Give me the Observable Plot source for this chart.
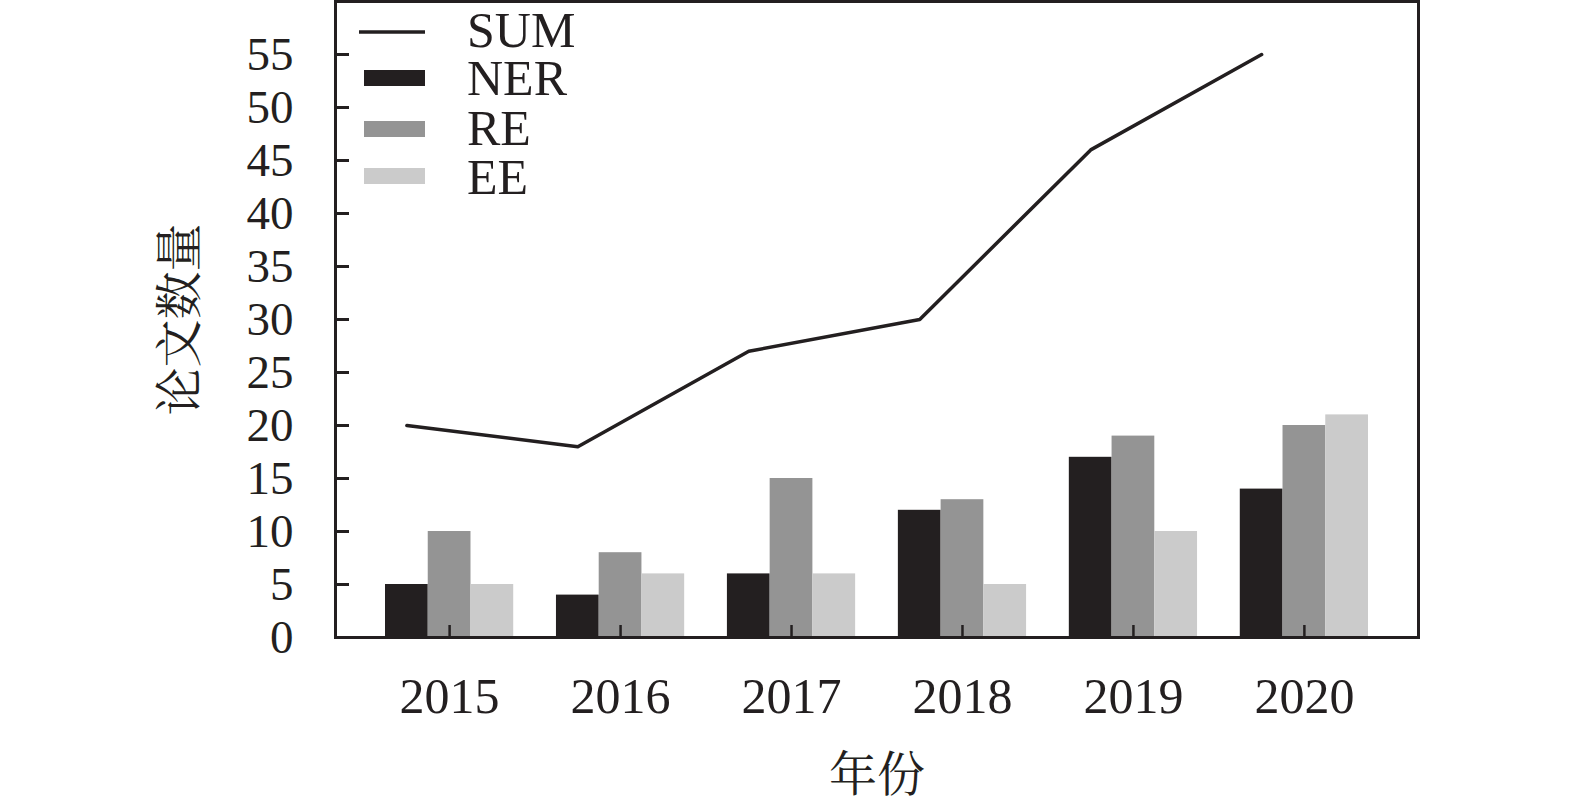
<!DOCTYPE html>
<html><head><meta charset="utf-8">
<script src="https://cdn.jsdelivr.net/npm/d3@7"></script>
<script src="https://cdn.jsdelivr.net/npm/@observablehq/plot@0.6"></script>
<style>
html,body{margin:0;padding:0;background:#fff;}
#wrap{position:relative;width:1575px;height:808px;overflow:hidden;}
#legend{position:absolute;left:0;top:0;}
</style></head><body><div id="wrap"></div>
<script>
const years = ["2015","2016","2017","2018","2019","2020"];
const series = ["NER","RE","EE"];
const ner = [5,4,6,12,17,14];
const re = [10,8,15,13,19,20];
const ee = [5,6,6,5,10,21];
const sum = [20,18,27,30,46,55];
const yTicks = [0,5,10,15,20,25,30,35,40,45,50,55];
const seriesColors = ["#231f20","#949494","#cbcbcb"];
const lineColor = "#231f20";
const legendItems = ["SUM","NER","RE","EE"];

const values = {NER: ner, RE: re, EE: ee};
const bars = years.flatMap((y,i)=> series.map(s=>({key:y+"|"+s, series:s, value: values[s][i]})));
const domain = years.flatMap((y,i)=> {
  const k = series.map(s=>y+"|"+s);
  return i < years.length-1 ? [...k, y+"|gap"] : k;
});
const lineData = years.map((y,i)=>({key:y+"|NER", value: sum[i]}));
const centerKeys = years.map(y=>y+"|RE");

const serif = "'Liberation Serif','Times New Roman',serif";
const cjk = "'Noto Serif CJK SC','Noto Sans CJK SC',sans-serif";

const chart = Plot.plot({
  width:1575, height:808,
  marginLeft:335, marginRight:157, marginTop:1, marginBottom:171,
  style:{fontFamily:serif, color:"#231f20", background:"white", overflow:"visible"},
  x:{type:"band", domain, paddingInner:0, paddingOuter:1.17, align:0.5, round:false, axis:null},
  y:{domain:[0,60], axis:null},
  color:{domain:series, range:seriesColors},
  marks:[
    Plot.barY(bars, {x:"key", y:"value", fill:"series", insetLeft:0, insetRight:0}),
    Plot.line(lineData, {x:"key", y:"value", stroke:lineColor, strokeWidth:3.5}),
    Plot.tickY(yTicks, {y:d=>d, stroke:lineColor, strokeWidth:3, insetRight:1083-14}),
    Plot.tickX(centerKeys, {x:d=>d, stroke:lineColor, strokeWidth:2.5, insetTop:636-12}),
    Plot.axisY(yTicks, {tickSize:0, tickPadding:42, fontSize:47, fill:"#231f20", label:null}),
    Plot.axisX(centerKeys, {tickSize:0, tickPadding:40, fontSize:50, fill:"#231f20", label:null, tickFormat:d=>d.split("|")[0]}),
    Plot.frame({stroke:lineColor, strokeWidth:3}),
    Plot.text(["年份"], {frameAnchor:"bottom", dy:138, fontSize:48, fontFamily:cjk, fill:"#231f20", textAnchor:"middle", lineAnchor:"middle"}),
    Plot.text(["论文数量"], {frameAnchor:"left", dx:-155, rotate:-90, fontSize:48, fontFamily:cjk, fill:"#231f20", textAnchor:"middle", lineAnchor:"middle"})
  ]
});
const wrap = document.getElementById("wrap");
wrap.appendChild(chart);

// legend overlay
const ns = "http://www.w3.org/2000/svg";
const lg = document.createElementNS(ns, "svg");
lg.setAttribute("id","legend");
lg.setAttribute("width","700");
lg.setAttribute("height","220");
const swatchX = 364, swatchW = 61;
const tops = [32, 78, 129, 176];
const baselines = [47, 95, 145, 194];
legendItems.forEach((name,i)=>{
  if (name === "SUM") {
    const l = document.createElementNS(ns,"line");
    l.setAttribute("x1",359); l.setAttribute("x2",425);
    l.setAttribute("y1",tops[i]); l.setAttribute("y2",tops[i]);
    l.setAttribute("stroke",lineColor); l.setAttribute("stroke-width",3.5);
    lg.appendChild(l);
  } else {
    const r = document.createElementNS(ns,"rect");
    r.setAttribute("x",swatchX); r.setAttribute("y",tops[i]-8);
    r.setAttribute("width",swatchW); r.setAttribute("height",16);
    r.setAttribute("fill",seriesColors[series.indexOf(name)]);
    lg.appendChild(r);
  }
  const t = document.createElementNS(ns,"text");
  t.setAttribute("x",467); t.setAttribute("y",baselines[i]);
  t.setAttribute("font-family",serif); t.setAttribute("font-size",50);
  t.setAttribute("fill","#231f20");
  t.textContent = name;
  lg.appendChild(t);
});
wrap.appendChild(lg);
</script></body></html>
